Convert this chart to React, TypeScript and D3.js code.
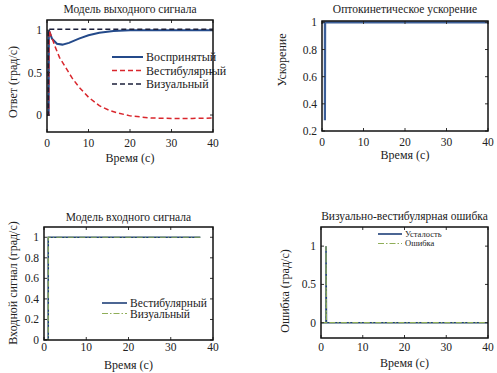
import React from "react";
import * as d3 from "d3";

const FONT = "Liberation Serif, DejaVu Serif, serif";
const TIME_TICKS = [0, 10, 20, 30, 40];

// Модель выходного сигнала
const perceivedT = [0, 0.4, 0.45, 1.2, 2.4, 3.7, 5.3, 7.7, 10, 12.6, 16, 20, 30, 40];
const perceivedV = [0, 0, 1, 0.9, 0.84, 0.83, 0.85, 0.9, 0.94, 0.97, 0.99, 1.0, 1.0, 1.0];
const vestOutT = [0, 0.4, 0.5, 2, 3, 4.5, 6, 7.7, 10, 12.6, 15, 16.7, 20, 25, 30, 35, 40];
const vestOutV = [0, 0, 1, 0.8, 0.68, 0.56, 0.44, 0.33, 0.21, 0.11, 0.055, 0.03, -0.01, -0.035, -0.04, -0.04, -0.035];
const visOutT = [0, 0.3, 0.3, 40];
const visOutV = [0, 0, 1.01, 1.01];

// Оптокинетическое ускорение
const accelT = [0, 0.7, 0.7, 0.75, 40];
const accelV = [1, 1, 0.28, 1, 1];

// Модель входного сигнала
const inT = [0, 1, 1, 37];
const vestInV = [0, 0, 1, 1];
const visInV = [0, 0, 1, 1];

// Визуально-вестибулярная ошибка
const errT = [0, 1.2, 1.2, 1.3, 40];
const fatigueV = [0, 0, 1, 0, 0];
const errorV = [0, 0, 1, 0, 0];

type Series = {
  t: number[];
  v: number[];
  color: string;
  width: number;
  dash?: string;
  label?: string;
};

type PanelProps = {
  box: { x0: number; x1: number; y0: number; y1: number };
  yDomain: [number, number];
  yTicks: number[];
  series: Series[];
  title: string;
  titleY: number;
  yLabel: string;
  yLabelPos: [number, number];
  xLabelY: number;
  tickLabelY: number;
  legend?: { x: number; y: number; step: number; len: number; size: number };
};

const Panel = ({ box, yDomain, yTicks, series, title, titleY, yLabel, yLabelPos, xLabelY, tickLabelY, legend }: PanelProps) => {
  const x = d3.scaleLinear().domain([0, 40]).range([box.x0, box.x1]);
  const y = d3.scaleLinear().domain(yDomain).range([box.y1, box.y0]);
  const line = d3
    .line<[number, number]>()
    .x((d) => x(d[0]))
    .y((d) => y(d[1]));
  const cx = (box.x0 + box.x1) / 2;
  const tk = 3;
  const clipId = `clip-${box.x0}-${box.y0}`;

  return (
    <g style={{ fontFamily: FONT }} fill="#222">
      <text x={cx} y={titleY} textAnchor="middle" fontSize={11.5}>{title}</text>
      <defs>
        <clipPath id={clipId}>
          <rect x={box.x0} y={box.y0} width={box.x1 - box.x0} height={box.y1 - box.y0} />
        </clipPath>
      </defs>
      <g clipPath={`url(#${clipId})`}>
        {series.map((s, i) => (
          <path
            key={i}
            d={line(s.t.map((t, j) => [t, s.v[j]] as [number, number])) || ""}
            fill="none"
            stroke={s.color}
            strokeWidth={s.width}
            strokeDasharray={s.dash}
          />
        ))}
      </g>
      {TIME_TICKS.map((t) => (
        <g key={`x${t}`}>
          <line x1={x(t)} x2={x(t)} y1={box.y1} y2={box.y1 - tk} stroke="#333" />
          <line x1={x(t)} x2={x(t)} y1={box.y0} y2={box.y0 + tk} stroke="#333" />
          <text x={x(t)} y={tickLabelY} textAnchor="middle" fontSize={11.5}>{t}</text>
        </g>
      ))}
      {yTicks.map((v) => (
        <g key={`y${v}`}>
          <line x1={box.x0} x2={box.x0 + tk} y1={y(v)} y2={y(v)} stroke="#333" />
          <line x1={box.x1} x2={box.x1 - tk} y1={y(v)} y2={y(v)} stroke="#333" />
          <text x={box.x0 - 5} y={y(v) + 4} textAnchor="end" fontSize={11.5}>{v}</text>
        </g>
      ))}
      <rect x={box.x0} y={box.y0} width={box.x1 - box.x0} height={box.y1 - box.y0} fill="none" stroke="#111" strokeWidth={1.5} />
      <text x={cx} y={xLabelY} textAnchor="middle" fontSize={12}>Время (с)</text>
      <text
        transform={`translate(${yLabelPos[0]},${yLabelPos[1]}) rotate(-90)`}
        textAnchor="middle"
        fontSize={12}
      >
        {yLabel}
      </text>
      {legend &&
        series
          .filter((s) => s.label)
          .map((s, i) => (
            <g key={`l${i}`} transform={`translate(${legend.x},${legend.y + i * legend.step})`}>
              <line x1={0} x2={legend.len} y1={0} y2={0} stroke={s.color} strokeWidth={s.width} strokeDasharray={s.dash} />
              <text x={legend.len + 3} y={legend.size * 0.35} fontSize={legend.size}>{s.label}</text>
            </g>
          ))}
    </g>
  );
};

export default function App() {
  return (
    <svg width={497} height={373} style={{ position: "absolute", left: 0, top: 0, background: "#fff" }}>
      <Panel
        box={{ x0: 47, x1: 213, y0: 20, y1: 132 }}
        yDomain={[-0.2, 1.12]}
        yTicks={[0, 0.5, 1]}
        title="Модель выходного сигнала"
        titleY={13}
        yLabel="Ответ (град/с)"
        yLabelPos={[17, 82]}
        xLabelY={162}
        tickLabelY={147}
        legend={{ x: 112, y: 57, step: 13.5, len: 31, size: 12 }}
        series={[
          { t: perceivedT, v: perceivedV, color: "#244a8a", width: 2, label: "Воспринятый" },
          { t: vestOutT, v: vestOutV, color: "#d9262c", width: 1.5, dash: "5,3", label: "Вестибулярный" },
          { t: visOutT, v: visOutV, color: "#1b1f3a", width: 1.5, dash: "5,3", label: "Визуальный" },
        ]}
      />
      <Panel
        box={{ x0: 322, x1: 488, y0: 21, y1: 131 }}
        yDomain={[0.2, 1.01]}
        yTicks={[0.2, 0.4, 0.6, 0.8, 1]}
        title="Оптокинетическое ускорение"
        titleY={13}
        yLabel="Ускорение"
        yLabelPos={[286, 60]}
        xLabelY={159}
        tickLabelY={146}
        series={[{ t: accelT, v: accelV, color: "#3b5e98", width: 2.2 }]}
      />
      <Panel
        box={{ x0: 44, x1: 213, y0: 227, y1: 340 }}
        yDomain={[0, 1.1]}
        yTicks={[0, 0.2, 0.4, 0.6, 0.8, 1]}
        title="Модель входного сигнала"
        titleY={221}
        yLabel="Входной сигнал (град/с)"
        yLabelPos={[17, 283]}
        xLabelY={369}
        tickLabelY={351}
        legend={{ x: 102, y: 303, step: 10.5, len: 25, size: 11.5 }}
        series={[
          { t: inT, v: vestInV, color: "#1f3f78", width: 1.6, label: "Вестибулярный" },
          { t: inT, v: visInV, color: "#8fae58", width: 1.2, dash: "6,2,1.5,2", label: "Визуальный" },
        ]}
      />
      <Panel
        box={{ x0: 321, x1: 488, y0: 227, y1: 338 }}
        yDomain={[-0.2, 1.25]}
        yTicks={[0, 0.5, 1]}
        title="Визуально-вестибулярная ошибка"
        titleY={220}
        yLabel="Ошибка (град/с)"
        yLabelPos={[289, 291]}
        xLabelY={367}
        tickLabelY={351}
        legend={{ x: 378, y: 234, step: 9.5, len: 24, size: 8.5 }}
        series={[
          { t: errT, v: fatigueV, color: "#1f3f78", width: 1.6, label: "Усталость" },
          { t: errT, v: errorV, color: "#8fae58", width: 1.2, dash: "6,2,1.5,2", label: "Ошибка" },
        ]}
      />
    </svg>
  );
}
